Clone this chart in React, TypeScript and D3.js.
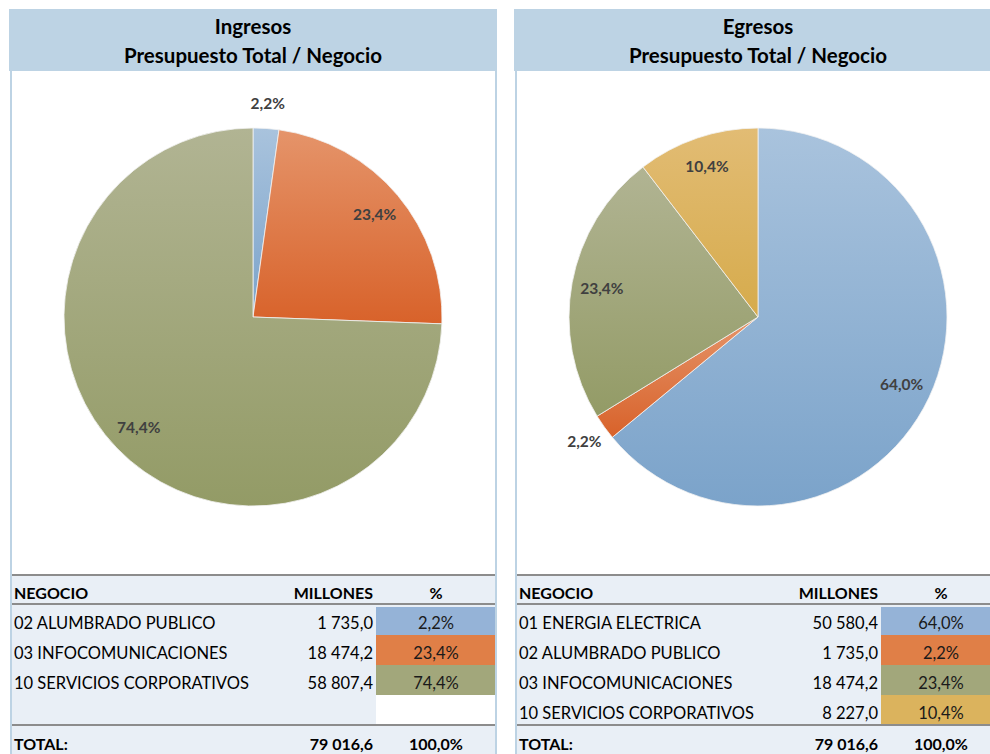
import React from "react";
import * as d3 from "d3";

// ---------- DATA ----------
const ingresosTitle = ["Ingresos", "Presupuesto Total / Negocio"];
const ingresosCategories = ["02 ALUMBRADO PUBLICO", "03 INFOCOMUNICACIONES", "10 SERVICIOS CORPORATIVOS"];
const ingresosValues = [1735.0, 18474.2, 58807.4];

const egresosTitle = ["Egresos", "Presupuesto Total / Negocio"];
const egresosCategories = ["01 ENERGIA ELECTRICA", "02 ALUMBRADO PUBLICO", "03 INFOCOMUNICACIONES", "10 SERVICIOS CORPORATIVOS"];
const egresosValues = [50580.4, 1735.0, 18474.2, 8227.0];

const tableHeaders = ["NEGOCIO", "MILLONES", "%"];
const totalLabel = "TOTAL:";

// ---------- STYLE ----------
const sliceColors = [
  { top: "#A9C3DD", bottom: "#7BA3CA", cell: "#95B3D7" },
  { top: "#E5946A", bottom: "#D8622A", cell: "#E07F47" },
  { top: "#B1B493", bottom: "#939B66", cell: "#A2A77B" },
  { top: "#E2BC74", bottom: "#D6AB4C", cell: "#DBB35D" },
];
const FONT = "Lato, 'Open Sans', sans-serif";

const fmtNum = (v: number) => {
  const s = d3.format(",.1f")(v);
  return s.replace(/,/g, " ").replace(".", ",");
};
const fmtPct = (v: number) => d3.format(".1%")(v).replace(".", ",");

type PanelProps = {
  id: string;
  x0: number;
  title: string[];
  categories: string[];
  values: number[];
  rows: number;
};

function Panel({ id, x0, title, categories, values, rows }: PanelProps) {
  const W = 487;
  const cx = x0 + 243;
  const cy = 317;
  const r = 189;
  const total = d3.sum(values);
  const pie = d3.pie<number>().sort(null).value((d) => d)(values);
  const arc = d3.arc<d3.PieArcDatum<number>>().innerRadius(0).outerRadius(r);
  const labelArcIn = d3.arc<d3.PieArcDatum<number>>().innerRadius(r * 0.84).outerRadius(r * 0.84);
  const labelArcOut = d3.arc<d3.PieArcDatum<number>>().innerRadius(r * 1.13).outerRadius(r * 1.13);

  const tableTop = 575;
  const headerH = 29;
  const rowH = 30;
  const rowsTop = tableTop + headerH + 1;
  const y = d3.scaleBand<number>().domain(d3.range(4)).range([rowsTop, rowsTop + rowH * 4]).padding(0);
  const totalLineY = rowsTop + rowH * 4;
  const colNameX = x0 + 4;
  const colNumX = x0 + 363;
  const pctX0 = x0 + 366;
  const pctX1 = x0 + 486;
  const pctMid = (pctX0 + pctX1) / 2;
  const tFont = 16.5;
  const hFont = 16;

  return (
    <g>
      <defs>
        {sliceColors.map((c, i) => (
          <linearGradient key={i} id={`${id}-g${i}`} x1="0" y1="0" x2="0" y2="1">
            <stop offset="0" stopColor={c.top} />
            <stop offset="1" stopColor={c.bottom} />
          </linearGradient>
        ))}
      </defs>
      {/* header */}
      <rect x={x0 - 1} y={9} width={W + 1} height={62} fill="#BDD3E4" />
      <text x={cx} y={34} textAnchor="middle" fontFamily={FONT} fontWeight="bold" fontSize={20.5} fill="#000">
        {title[0]}
      </text>
      <text x={cx} y={63} textAnchor="middle" fontFamily={FONT} fontWeight="bold" fontSize={20.5} fill="#000">
        {title[1]}
      </text>

      {/* pie */}
      <g transform={`translate(${cx},${cy})`}>
        {pie.map((d, i) => (
          <path key={i} d={arc(d) || ""} fill={`url(#${id}-g${i})`} stroke="#F2F2F2" strokeWidth={0.8} />
        ))}
        {pie.map((d, i) => {
          const frac = d.value / total;
          const [lx, ly] = frac < 0.05 ? labelArcOut.centroid(d) : labelArcIn.centroid(d);
          return (
            <text key={i} x={lx} y={ly} dy="0.35em" textAnchor="middle" fontFamily={FONT} fontWeight="bold" fontSize={15.5} fill="#404040">
              {fmtPct(frac)}
            </text>
          );
        })}
      </g>

      {/* table background */}
      <rect x={x0 + 1} y={tableTop} width={W - 2} height={754 - tableTop} fill="#E9EFF6" />
      {/* header row */}
      <text x={colNameX} y={tableTop + 24} fontFamily={FONT} fontWeight="bold" fontSize={hFont} fill="#000">{tableHeaders[0]}</text>
      <text x={colNumX} y={tableTop + 24} textAnchor="end" fontFamily={FONT} fontWeight="bold" fontSize={hFont} fill="#000">{tableHeaders[1]}</text>
      <text x={pctMid} y={tableTop + 24} textAnchor="middle" fontFamily={FONT} fontWeight="bold" fontSize={hFont} fill="#000">{tableHeaders[2]}</text>

      {d3.range(rows).map((i) => {
        const has = i < values.length;
        const yy = y(i) as number;
        return (
          <g key={i}>
            <rect x={pctX0} y={yy + (i === 0 ? 2 : 0)} width={pctX1 - pctX0} height={rowH - (i === 0 ? 2 : 0)} fill={has ? sliceColors[i].cell : "#FFFFFF"} />
            {has && (
              <>
                <text x={colNameX} y={yy + 24} fontFamily={FONT} fontSize={tFont} fill="#000">{categories[i]}</text>
                <text x={colNumX} y={yy + 24} textAnchor="end" fontFamily={FONT} fontSize={tFont} fill="#000">{fmtNum(values[i])}</text>
                <text x={pctMid} y={yy + 24} textAnchor="middle" fontFamily={FONT} fontSize={tFont} fill="#1a1a1a">{fmtPct(values[i] / total)}</text>
              </>
            )}
          </g>
        );
      })}

      {/* total row */}
      <text x={colNameX} y={totalLineY + 25} fontFamily={FONT} fontWeight="bold" fontSize={hFont} fill="#000">{totalLabel}</text>
      <text x={colNumX} y={totalLineY + 25} textAnchor="end" fontFamily={FONT} fontWeight="bold" fontSize={hFont} fill="#000">{fmtNum(total)}</text>
      <text x={pctMid} y={totalLineY + 25} textAnchor="middle" fontFamily={FONT} fontWeight="bold" fontSize={hFont} fill="#000">{fmtPct(1)}</text>

      {/* grey lines */}
      <line x1={x0 + 1} x2={x0 + W - 1} y1={tableTop} y2={tableTop} stroke="#8C8C8C" strokeWidth={2} />
      <line x1={x0 + 1} x2={x0 + W - 1} y1={rowsTop - 1} y2={rowsTop - 1} stroke="#8C8C8C" strokeWidth={2} />
      <line x1={x0 + 1} x2={x0 + W - 1} y1={totalLineY} y2={totalLineY} stroke="#8C8C8C" strokeWidth={2} />

      {/* side borders */}
      <line x1={x0 + 1} x2={x0 + 1} y1={71} y2={754} stroke="#BDD3E4" strokeWidth={2} />
      <line x1={x0 + W - 1} x2={x0 + W - 1} y1={71} y2={754} stroke="#BDD3E4" strokeWidth={2} />
    </g>
  );
}

export default function App() {
  return (
    <svg width={990} height={754} style={{ position: "absolute", left: 0, top: 0, background: "#fff" }}>
      <rect width={990} height={754} fill="#fff" />
      <Panel id="ing" x0={10} title={ingresosTitle} categories={ingresosCategories} values={ingresosValues} rows={4} />
      <Panel id="egr" x0={515} title={egresosTitle} categories={egresosCategories} values={egresosValues} rows={4} />
    </svg>
  );
}
